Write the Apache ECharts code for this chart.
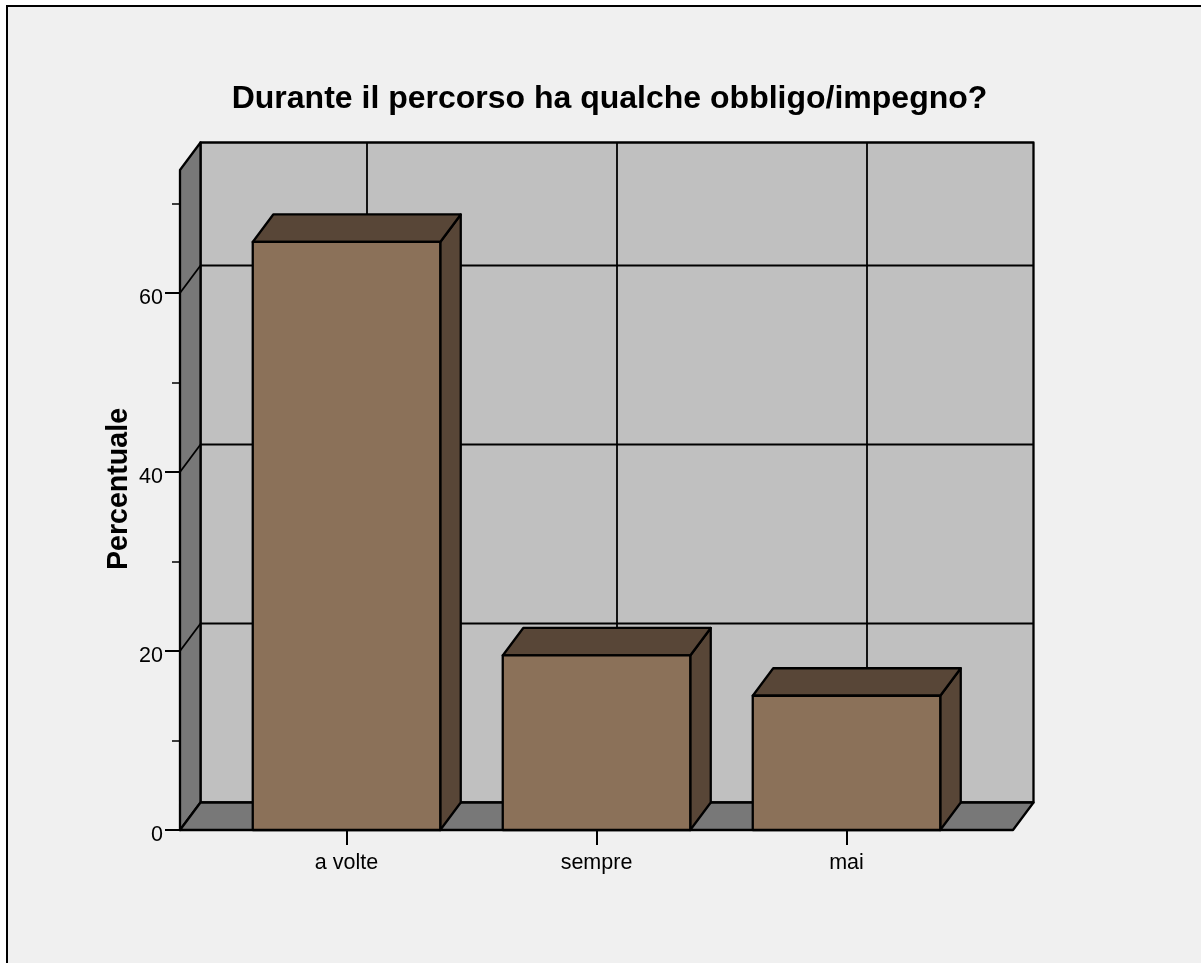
<!DOCTYPE html>
<html>
<head>
    <meta charset="utf-8"/>
    <title>Durante il percorso ha qualche obbligo/impegno?</title>
    <script src="https://cdn.jsdelivr.net/npm/echarts@6/dist/echarts.min.js"></script>
    <style>
        html, body { margin: 0; padding: 0; background: #fff; }
        #chart { width: 1201px; height: 963px; }
    </style>
</head>
<body>
<div id="chart"></div>
<script>
    var categories = ['a volte', 'sempre', 'mai'];
    var percentValues = [65.7, 19.5, 15.0];
    var yMax = 73.74;
    var yLabelTicks = [0, 20, 40, 60];
    var yMinorTicks = [10, 30, 50, 70];
    var gridLineValues = [20, 40, 60];

    var fontName = '"Liberation Sans", Arial, sans-serif';
    var depthX = 20.5, depthY = -27.5; // fake 3d depth in px

    function poly(points, fill) {
        return {
            type: 'polygon',
            shape: {points: points},
            style: {fill: fill, stroke: '#000', lineWidth: 2.3, lineJoin: 'round'}
        };
    }

    function line(x1, y1, x2, y2) {
        return {
            type: 'line',
            shape: {x1: x1, y1: y1, x2: x2, y2: y2},
            style: {stroke: '#000', lineWidth: 1.8}
        };
    }

    // back wall, side wall, floor and grid lines
    function renderWalls(params, api) {
        var band = api.size([1, 0])[0];
        var left = api.coord([0, 0])[0] - band * 0.666;
        var right = api.coord([categories.length - 1, 0])[0] + band * 0.666;
        var bottom = api.coord([0, 0])[1];
        var top = api.coord([0, yMax])[1];
        var children = [
            poly([[left + depthX, top + depthY], [right + depthX, top + depthY], [right + depthX, bottom + depthY], [left + depthX, bottom + depthY]], '#c0c0c0'),
            poly([[left, bottom], [left, top], [left + depthX, top + depthY], [left + depthX, bottom + depthY]], '#787878'),
            poly([[left, bottom], [right, bottom], [right + depthX, bottom + depthY], [left + depthX, bottom + depthY]], '#787878')
        ];
        gridLineValues.forEach(function (v) {
            var y = api.coord([0, v])[1];
            children.push(line(left, y, left + depthX, y + depthY));
            children.push(line(left + depthX, y + depthY, right + depthX, y + depthY));
        });
        categories.forEach(function (c, i) {
            var x = api.coord([i, 0])[0] + depthX;
            children.push(line(x, top + depthY, x, bottom + depthY));
        });
        return {type: 'group', children: children};
    }

    function renderBar(params, api) {
        var base = api.coord([api.value(0), 0]);
        var tip = api.coord([api.value(0), api.value(1)]);
        var half = api.size([1, 0])[0] * 0.75 / 2;
        var x1 = base[0] - half, x2 = base[0] + half;
        return {
            type: 'group',
            children: [
                poly([[x2, base[1]], [x2, tip[1]], [x2 + depthX, tip[1] + depthY], [x2 + depthX, base[1] + depthY]], '#584637'),
                poly([[x1, tip[1]], [x2, tip[1]], [x2 + depthX, tip[1] + depthY], [x1 + depthX, tip[1] + depthY]], '#584637'),
                poly([[x1, base[1]], [x2, base[1]], [x2, tip[1]], [x1, tip[1]]], '#8b7159')
            ]
        };
    }

    var myChart = echarts.init(document.getElementById('chart'));
    var option = {
        animation: false,
        backgroundColor: '#fff',
        textStyle: {fontFamily: fontName},
        graphic: [
            {type: 'rect', z: -10, silent: true, shape: {x: 7, y: 6, width: 1194, height: 957}, style: {fill: '#f0f0f0'}},
            {type: 'polyline', z: -9, silent: true, shape: {points: [[7, 963], [7, 6], [1201, 6]]}, style: {stroke: '#000', lineWidth: 2, fill: null}}
        ],
        title: {
            text: 'Durante il percorso ha qualche obbligo/impegno?',
            left: 604.5,
            top: 78,
            textAlign: 'center',
            textStyle: {fontFamily: fontName, fontWeight: 'bold', fontSize: 32, color: '#000'}
        },
        grid: {left: 221.5, right: 229.5, top: 170, bottom: 133},
        xAxis: {
            type: 'category',
            data: categories,
            axisLine: {show: false},
            axisTick: {show: true, alignWithLabel: true, length: 15, lineStyle: {color: '#000', width: 2}},
            axisLabel: {color: '#000', fontSize: 21.5, fontFamily: fontName, margin: 22}
        },
        yAxis: [{
            type: 'value',
            min: 0,
            max: yMax,
            offset: 41.5,
            name: 'Percentuale',
            nameLocation: 'middle',
            nameGap: 46,
            nameMoveOverlap: false,
            nameRotate: 90,
            nameTextStyle: {color: '#000', fontSize: 28.6, fontWeight: 'bold', fontFamily: fontName, padding: [0, 0, 0, 22]},
            splitLine: {show: false},
            axisLine: {show: false},
            axisTick: {show: true, length: 15, customValues: yLabelTicks, lineStyle: {color: '#000', width: 2}},
            axisLabel: {customValues: yLabelTicks, color: '#000', fontSize: 21.5, fontFamily: fontName, margin: 17, verticalAlign: 'top', lineHeight: 10}
        }, {
            type: 'value',
            position: 'left',
            min: 0,
            max: yMax,
            offset: 41.5,
            splitLine: {show: false},
            axisLine: {show: false},
            axisTick: {show: true, length: 8, customValues: yMinorTicks, lineStyle: {color: '#000', width: 1.5}},
            axisLabel: {show: false}
        }],
        series: [{
            type: 'custom',
            name: 'walls',
            silent: true,
            clip: false,
            z: 1,
            renderItem: renderWalls,
            data: [[0, 0]]
        }, {
            type: 'custom',
            name: 'Percentuale',
            clip: false,
            z: 3,
            renderItem: renderBar,
            encode: {x: 0, y: 1},
            data: categories.map(function (c, i) { return [i, percentValues[i]]; })
        }]
    };
    myChart.setOption(option);
</script>
</body>
</html>
